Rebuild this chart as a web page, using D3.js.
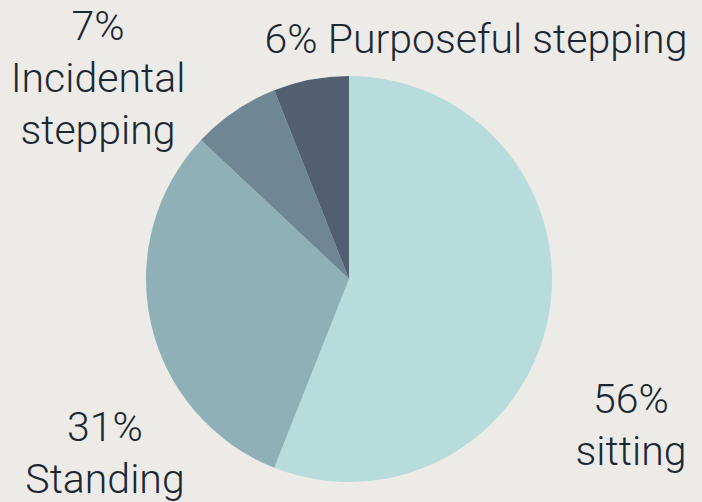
<!DOCTYPE html>
<html>
<head>
<meta charset="utf-8">
<script src="https://cdn.jsdelivr.net/npm/d3@7"></script>
<style>
  body { margin: 0; background: #edebe7; }
  svg { display: block; }
</style>
</head>
<body>
<div id="pieChart"></div>
<script>
// data
const categories = ["sitting", "Standing", "Incidental stepping", "Purposeful stepping"];
const shares = [56, 31, 7, 6];
const labelLines = [
    ["56%", "sitting"],
    ["31%", "Standing"],
    ["7%", "Incidental", "stepping"],
    ["6% Purposeful stepping"]
];
const sliceColors = ["#b8dbdb", "#8fb0b7", "#6f8794", "#525f71"];

const width = 702, height = 502;
const cx = 349, cy = 279, radius = 203;

const svg = d3.select("#pieChart").append("svg")
    .attr("width", width)
    .attr("height", height);

svg.append("rect").attr("width", width).attr("height", height).attr("fill", "#edebe7");

const pie = d3.pie().sort(null).value(d => d)(shares);
const arc = d3.arc().innerRadius(0).outerRadius(radius);

const pieGroup = svg.append("g").attr("transform", "translate(" + cx + "," + cy + ")");

pieGroup.selectAll("path")
    .data(pie)
    .enter().append("path")
    .attr("d", arc)
    .attr("fill", (d, i) => sliceColors[i]);

// label anchor spots (centre x, first baseline) - placed by hand like the original
const labelPos = [
    { x: 631, y: 413 },
    { x: 105, y: 441 },
    { x: 98, y: 40 },
    { x: 476, y: 53 }
];
const lineHeight = 52;

const labels = svg.selectAll("text.lbl")
    .data(labelLines)
    .enter().append("text")
    .attr("class", "lbl")
    .attr("text-anchor", "middle")
    .attr("font-family", "Roboto, sans-serif")
    .attr("font-weight", 300)
    .attr("font-size", 41)
    .attr("fill", "#1b2834");

labels.each(function (lines, i) {
    d3.select(this).selectAll("tspan")
        .data(lines)
        .enter().append("tspan")
        .attr("x", labelPos[i].x)
        .attr("y", (d, j) => labelPos[i].y + j * lineHeight)
        .text(d => d);
});
</script>
</body>
</html>
